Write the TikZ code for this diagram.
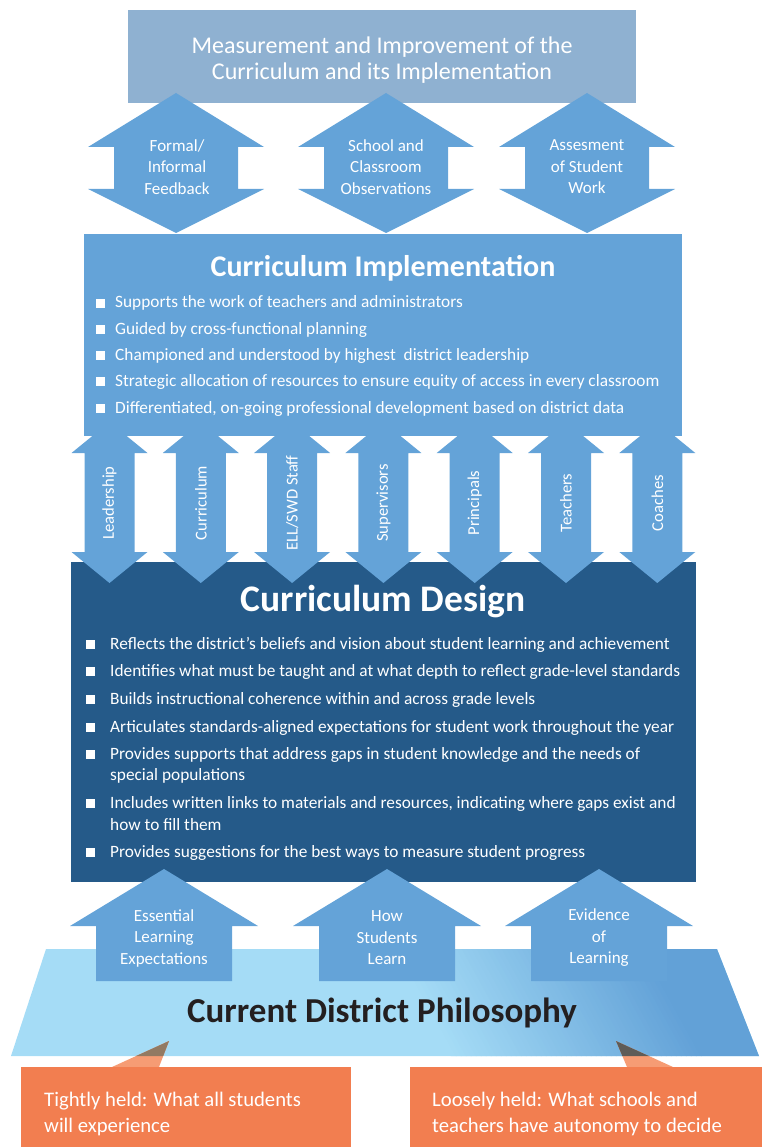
\documentclass[tikz,border=0pt]{standalone}
\usepackage{fontspec}
\setmainfont{Carlito}
\definecolor{topc}{HTML}{8FB1D1}
\definecolor{arrowc}{HTML}{64A3D8}
\definecolor{designc}{HTML}{255A89}
\definecolor{philL}{HTML}{A5DCF6}
\definecolor{philR}{HTML}{62A1D7}
\definecolor{orangec}{HTML}{F27E50}
\definecolor{orangelt}{HTML}{F69C74}
\definecolor{brownL}{HTML}{927A63}
\definecolor{brownR}{HTML}{5E5C58}
\definecolor{darktxt}{HTML}{231F20}
\tikzset{
  shapebox/.style={inner sep=0, outer sep=0, anchor=north west},
  wlabel/.style={text=white, inner sep=0, align=center, font=\fontsize{17}{21.5}\selectfont},
  vlabel/.style={text=white, inner sep=0, rotate=90, font=\fontsize{16.6}{18}\selectfont},
  listtxt/.style={text=white, inner sep=0, anchor=base west, font=\fontsize{17.3}{20}\selectfont},
  sqbullet/.style={fill=white, inner sep=0, minimum size=9pt},
  callout/.style={text=white, inner sep=0, anchor=north west, align=left, font=\fontsize{20.7}{26}\selectfont},
}
\newcommand\mydarrow[8]{%
  \fill[arrowc] (#2,#3) -- ({#2+#7},#4) -- ({#2+#8},#4) -- ({#2+#8},#5) -- ({#2+#7},#5) -- (#2,#6) -- ({#2-#7},#5) -- ({#2-#8},#5) -- ({#2-#8},#4) -- ({#2-#7},#4) -- cycle;
  \coordinate (#1) at (#2,{(#3+#6)/2});}
\newcommand\myuarrow[7]{%
  \fill[arrowc] (#2,#3) -- ({#2+#6},#4) -- ({#2+#7},#4) -- ({#2+#7},#5) -- ({#2-#7},#5) -- ({#2-#7},#4) -- ({#2-#6},#4) -- cycle;
  \coordinate (#1) at (#2,{(#4+#5)/2});}
\newcommand\philpath{(46,949) -- (717,949) -- (759,1056) -- (11,1056) -- cycle}
\begin{document}
\begin{tikzpicture}[x=1pt,y=-1pt]
\useasboundingbox (0,0) rectangle (762,1147);
% top box
\node[shapebox, fill=topc, minimum width=508pt, minimum height=93pt] (meas) at (128,10) {};
\node[text=white, inner sep=0, align=center, font=\fontsize{24}{26}\selectfont] (meastxt) at (382,60) {Measurement and Improvement of the\\Curriculum and its Implementation};
% top double arrows
\mydarrow{da1}{176}{93}{147}{189}{233}{88}{62}
\mydarrow{da2}{386}{93}{147}{189}{233}{88}{62}
\mydarrow{da3}{587}{93}{147}{189}{233}{88}{62}
\node[wlabel] (dl1) at (177,167) {Formal/\\Informal\\Feedback};
\node[wlabel] (dl2) at (386,167) {School and\\Classroom\\Observations};
\node[wlabel] (dl3) at (587,167) {Assesment\\of Student\\Work};
% design box
\node[shapebox, fill=designc, minimum width=625pt, minimum height=320pt] (design) at (71,562) {};
% vertical arrows
\foreach \i/\t in {0/Leadership,1/Curriculum,2/ELL\slash SWD Staff,3/Supervisors,4/Principals,5/Teachers,6/Coaches}{
  \mydarrow{va\i}{109.5+91.3*\i}{422}{453}{552}{583}{38}{25}
  \node[vlabel] (vl\i) at ({109.5+91.3*\i},503) {\t};
}
% implementation box
\node[shapebox, fill=arrowc, minimum width=598pt, minimum height=202pt] (impl) at (84,234) {};
\node[text=white, inner sep=0, font=\bfseries\fontsize{30}{32}\selectfont] (impltitle) at (383,268) {Curriculum Implementation};
\foreach \y/\t [count=\k] in {303/Supports the work of teachers and administrators,
  329/Guided by cross-functional planning,
  355/Championed and understood by highest\ \ district leadership,
  381/Strategic allocation of resources to ensure equity of access in every classroom,
  408/{Differentiated, on-going professional development based on district data}}{
  \node[sqbullet] (ib\k) at (100.5,\y) {};
  \node[listtxt] (it\k) at (115,\y+5) {\t};
}
% design content
\node[text=white, inner sep=0, font=\bfseries\fontsize{37.5}{40}\selectfont] (destitle) at (383,602) {Curriculum Design};
\foreach \y/\t [count=\k] in {644/Reflects the district’s beliefs and vision about student learning and achievement,
  671/Identifies what must be taught and at what depth to reflect grade-level standards,
  699/Builds instructional coherence within and across grade levels,
  727/Articulates standards-aligned expectations for student work throughout the year,
  754/Provides supports that address gaps in student knowledge and the needs of,
  803/{Includes written links to materials and resources, indicating where gaps exist and},
  852/Provides suggestions for the best ways to measure student progress}{
  \node[sqbullet] (db\k) at (90.5,\y) {};
  \node[listtxt] (dt\k) at (110,\y+5) {\t};
}
\node[listtxt] (dt5b) at (110,780) {special populations};
\node[listtxt] (dt6b) at (110,830) {how to fill them};
% philosophy trapezoid with slanted gradient (drawn as thin strips)
\begin{scope}
  \clip \philpath;
  \fill[philL] (0,940) rectangle (770,1060);
  \foreach \i in {0,...,49}{
    \pgfmathsetmacro\pct{\i*2}
    \fill[philR!\pct!philL] ({420+5*\i-55},900) -- ({425.8+5*\i-55},900) -- ({425.8+5*\i+55},1100) -- ({420+5*\i+55},1100) -- cycle;
  }
  \fill[philR] (615,900) -- (900,900) -- (900,1100) -- (725,1100) -- cycle;
\end{scope}
\coordinate (phil) at (382,1002);
% up arrows
\myuarrow{ua1}{164}{869}{926}{981}{94}{68}
\myuarrow{ua2}{387}{869}{926}{981}{94}{68}
\myuarrow{ua3}{599}{869}{926}{981}{94}{68}
\node[wlabel] (ul1) at (164,938) {Essential\\Learning\\Expectations};
\node[wlabel] (ul2) at (387,938) {How\\Students\\Learn};
\node[wlabel] (ul3) at (599,938) {Evidence\\of\\Learning};
\node[text=darktxt, inner sep=0, font=\bfseries\fontsize{35}{38}\selectfont] (philtxt) at (382,1013) {Current District Philosophy};
% orange pointers
\fill[orangelt] (112,1067) -- (169,1041) -- (159,1067) -- cycle;
\fill[orangelt] (627,1067) -- (616,1041) -- (673,1067) -- cycle;
\begin{scope}
  \clip \philpath;
  \fill[brownL] (112,1067) -- (169,1041) -- (159,1067) -- cycle;
  \fill[brownR] (627,1067) -- (616,1041) -- (673,1067) -- cycle;
\end{scope}
% orange callouts
\node[shapebox, fill=orangec, minimum width=330pt, minimum height=81pt] (tight) at (21,1067) {};
\node[shapebox, fill=orangec, minimum width=352pt, minimum height=81pt] (loose) at (410,1067) {};
\node[callout] (tighttxt) at (44,1092) {Tightly held: What all students\\will experience};
\node[callout] (loosetxt) at (432,1092) {Loosely held: What schools and\\teachers have autonomy to decide};
\end{tikzpicture}
\end{document}
